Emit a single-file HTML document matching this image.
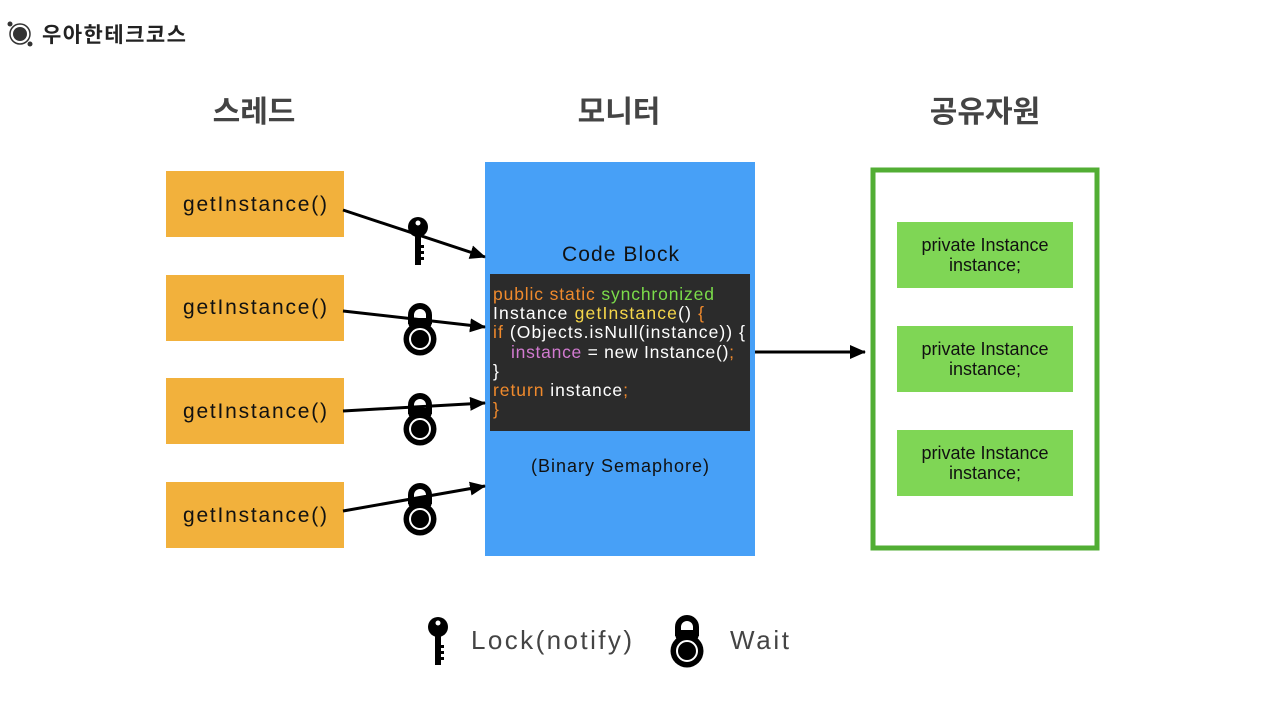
<!DOCTYPE html>
<html><head><meta charset="utf-8"><style>
html,body{margin:0;padding:0;background:#fff;}
svg text{font-family:"Liberation Sans","Noto Sans CJK KR",sans-serif;}
</style></head><body>
<svg width="1280" height="717" viewBox="0 0 1280 717" xmlns="http://www.w3.org/2000/svg">
<defs>
<marker id="ah" markerWidth="16" markerHeight="14" refX="15" refY="7" orient="auto" markerUnits="userSpaceOnUse" viewBox="0 0 16 14">
<path d="M0,0 L16,7 L0,14 z" fill="#000"/></marker>
<g id="lock">
<rect x="-9" y="-24" width="18" height="24" rx="9" fill="none" stroke="#000" stroke-width="6"/>
<rect x="-12" y="-12" width="24" height="6" fill="#000"/>
<circle cx="0" cy="9" r="16.5" fill="#000"/>
<circle cx="0" cy="9" r="10" fill="none" stroke="#fff" stroke-width="2"/>
</g>
<g id="key">
<circle cx="0" cy="-14" r="10" fill="#000"/>
<circle cx="0" cy="-18" r="2.5" fill="#fff"/>
<rect x="-3" y="-8" width="6" height="32" fill="#000"/>
<rect x="2" y="4" width="4" height="3" fill="#000"/>
<rect x="2" y="10" width="4" height="3" fill="#000"/>
<rect x="2" y="16" width="4" height="3" fill="#000"/>
</g>
</defs>
<circle cx="20" cy="34" r="10" fill="none" stroke="#333" stroke-width="1.5"/>
<circle cx="20" cy="34" r="7" fill="#333"/>
<circle cx="10" cy="24" r="2.5" fill="#333"/>
<circle cx="30" cy="44" r="2.5" fill="#333"/>
<text x="42" y="42" font-size="21" font-weight="bold" fill="#222" textLength="144">우아한테크코스</text>
<text x="254" y="122" font-size="30" fill="#444" text-anchor="middle" font-weight="bold">스레드</text>
<text x="619" y="122" font-size="30" fill="#444" text-anchor="middle" font-weight="bold">모니터</text>
<text x="985" y="122" font-size="30" fill="#444" text-anchor="middle" font-weight="bold">공유자원</text>
<g font-size="21" fill="#111">
<rect x="166" y="171" width="178" height="66" fill="#f2b13c"/><text x="183" y="211" textLength="144">getInstance()</text>
<rect x="166" y="275" width="178" height="66" fill="#f2b13c"/><text x="183" y="314" textLength="144">getInstance()</text>
<rect x="166" y="378" width="178" height="66" fill="#f2b13c"/><text x="183" y="418" textLength="144">getInstance()</text>
<rect x="166" y="482" width="178" height="66" fill="#f2b13c"/><text x="183" y="522" textLength="144">getInstance()</text>
</g>
<rect x="485" y="162" width="270" height="394" fill="#47a0f7"/>
<text x="562" y="261" font-size="21" fill="#111" textLength="117">Code Block</text>
<rect x="490" y="274" width="260" height="157" fill="#2b2b2b"/>
<g font-size="17.5" fill="#fff">
<text x="493" y="300" textLength="221"><tspan fill="#f08a2c">public static </tspan><tspan fill="#7bdc4a">synchronized</tspan></text>
<text x="493" y="319" textLength="211">Instance <tspan fill="#f5d64a">getInstance</tspan>() <tspan fill="#f08a2c">{</tspan></text>
<text x="493" y="338" textLength="252"><tspan fill="#f08a2c">if</tspan> (Objects.isNull(instance)) {</text>
<text x="511" y="358" textLength="223"><tspan fill="#d27ad0">instance</tspan> = new Instance()<tspan fill="#f08a2c">;</tspan></text>
<text x="493" y="377">}</text>
<text x="493" y="396" textLength="135"><tspan fill="#f08a2c">return</tspan> instance<tspan fill="#f08a2c">;</tspan></text>
<text x="493" y="415" fill="#f08a2c">}</text>
</g>
<text x="531" y="472" font-size="18" fill="#111" textLength="178">(Binary Semaphore)</text>
<rect x="873" y="170" width="224" height="378" fill="#fff" stroke="#52ae34" stroke-width="5"/>
<g font-size="18" fill="#111" text-anchor="middle">
<rect x="897" y="222" width="176" height="66" fill="#7fd655"/><text x="985" y="251">private Instance</text><text x="985" y="271">instance;</text>
<rect x="897" y="326" width="176" height="66" fill="#7fd655"/><text x="985" y="355">private Instance</text><text x="985" y="375">instance;</text>
<rect x="897" y="430" width="176" height="66" fill="#7fd655"/><text x="985" y="459">private Instance</text><text x="985" y="479">instance;</text>
</g>
<g stroke="#000" stroke-width="3" marker-end="url(#ah)">
<line x1="343" y1="210" x2="485" y2="257"/>
<line x1="343" y1="311" x2="485" y2="327"/>
<line x1="343" y1="411" x2="485" y2="403"/>
<line x1="343" y1="511" x2="485" y2="486"/>
<line x1="755" y1="352" x2="865" y2="352"/>
</g>
<use href="#key" x="418" y="241"/>
<use href="#lock" x="420" y="330"/>
<use href="#lock" x="420" y="420"/>
<use href="#lock" x="420" y="510"/>
<use href="#key" x="438" y="641"/>
<text x="471" y="649" font-size="26" fill="#444" textLength="161">Lock(notify)</text>
<use href="#lock" x="687" y="642"/>
<text x="730" y="649" font-size="26" fill="#444" textLength="59">Wait</text>
</svg>
</body></html>
